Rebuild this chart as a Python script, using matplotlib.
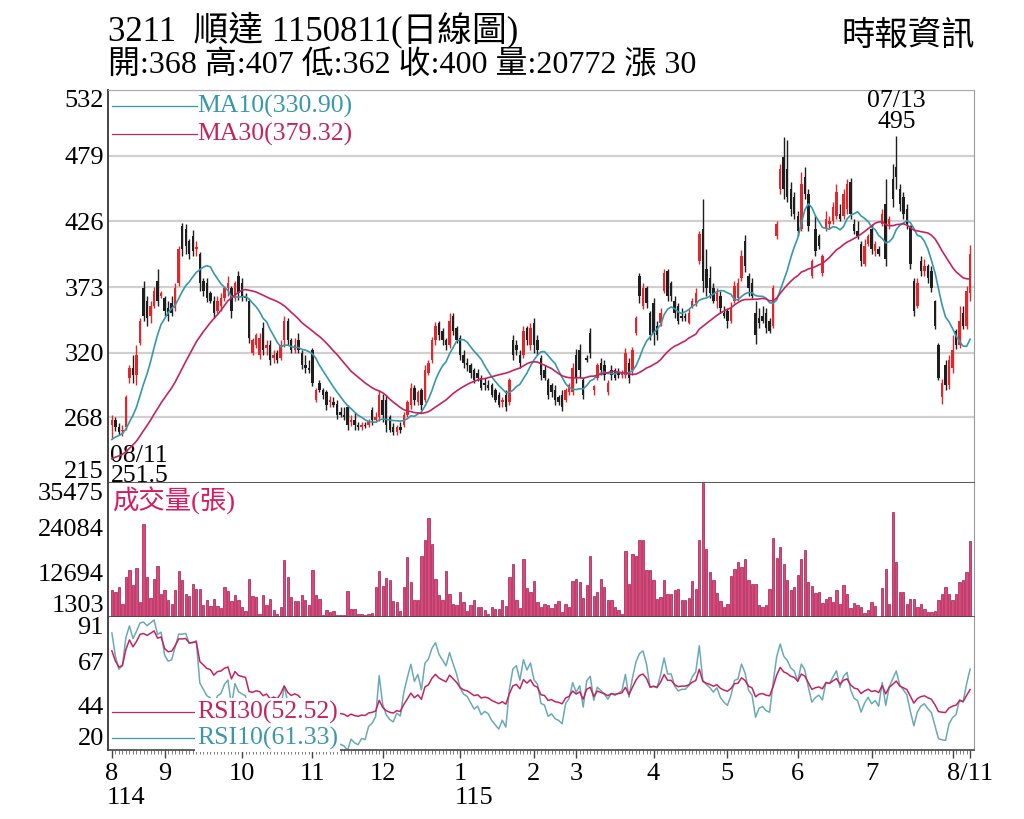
import numpy as np
import pandas as pd
import matplotlib
matplotlib.use("Agg")
import matplotlib.pyplot as plt
from matplotlib.transforms import blended_transform_factory

# ---- data (3211 順達, daily, 114/08/11 - 115/08/11) ----
open_ = [
    262, 266, 260, 257, 260, 300, 308, 302, 328, 372,
    362, 350, 358, 378, 366, 364, 356, 360, 356, 376,
    422, 420, 410, 414, 404, 400, 378, 376, 368, 362,
    354, 358, 364, 372, 372, 364, 382, 376, 366, 362,
    320, 326, 318, 340, 324, 326, 316, 320, 316, 330,
    346, 330, 322, 330, 320, 310, 308, 322, 282, 296,
    290, 288, 280, 280, 279, 272, 270, 276, 264, 266,
    262, 260, 262, 262, 274, 266, 268, 282, 282, 268,
    260, 256, 260, 262, 270, 278, 292, 280, 290, 282,
    304, 314, 330, 344, 338, 330, 326, 350, 340, 332,
    318, 312, 310, 306, 304, 300, 296, 294, 294, 290,
    286, 280, 286, 280, 330, 326, 318, 318, 340, 326,
    344, 330, 316, 306, 298, 294, 290, 284, 286, 282,
    288, 288, 318, 322, 298, 316, 336, 290, 300, 312,
    310, 288, 306, 306, 304, 302, 302, 312, 306, 336,
    382, 358, 372, 352, 360, 342, 344, 370, 386, 376,
    362, 358, 350, 350, 344, 358, 360, 394, 420, 388,
    380, 372, 362, 366, 352, 354, 346, 362, 364, 380,
    410, 382, 376, 352, 348, 350, 352, 346, 342, 414,
    452, 478, 468, 452, 446, 430, 420, 462, 448, 382,
    420, 414, 384, 420, 424, 426, 430, 432, 430, 436,
    458, 424, 418, 408, 392, 408, 420, 402, 404, 424,
    440, 424, 460, 470, 452, 446, 436, 422, 378, 358,
    394, 386, 390, 386, 362, 326, 284, 310, 294, 308,
    338, 326, 352, 342, 368,
]
high = [
    270, 268, 263, 262, 286, 310, 318, 326, 348, 378,
    366, 362, 373, 388, 370, 366, 362, 366, 376, 406,
    425, 424, 412, 419, 410, 401, 380, 380, 370, 366,
    366, 368, 374, 382, 374, 378, 386, 380, 368, 364,
    332, 336, 336, 345, 330, 330, 322, 322, 330, 350,
    348, 332, 332, 336, 322, 318, 314, 324, 292, 298,
    292, 290, 285, 284, 282, 276, 276, 278, 270, 272,
    264, 264, 264, 267, 276, 272, 290, 287, 286, 270,
    263, 262, 264, 272, 282, 296, 294, 290, 292, 310,
    314, 333, 345, 346, 340, 332, 352, 352, 342, 334,
    322, 316, 312, 308, 307, 302, 300, 298, 296, 292,
    288, 284, 290, 300, 334, 330, 322, 342, 342, 344,
    348, 334, 318, 310, 300, 296, 294, 286, 290, 292,
    296, 312, 323, 327, 300, 318, 340, 294, 312, 316,
    314, 298, 310, 308, 308, 306, 324, 316, 325, 350,
    384, 376, 374, 354, 364, 346, 356, 388, 388, 378,
    366, 360, 356, 352, 355, 364, 372, 418, 444, 404,
    390, 376, 372, 370, 358, 356, 361, 378, 380, 403,
    415, 384, 380, 362, 356, 358, 356, 348, 375, 426,
    472, 494, 492, 458, 450, 434, 466, 470, 452, 396,
    431, 416, 400, 434, 430, 442, 456, 440, 452, 460,
    461, 428, 426, 410, 412, 416, 424, 410, 406, 436,
    460, 430, 472, 495, 456, 450, 440, 423, 380, 380,
    398, 396, 392, 390, 363, 328, 299, 314, 318, 334,
    339, 358, 358, 374, 407,
]
low = [
    251.5, 257, 254, 253, 258, 296, 296, 294, 326, 346,
    342, 344, 356, 358, 364, 350, 346, 350, 354, 374,
    398, 400, 396, 398, 398, 370, 366, 361, 360, 348,
    352, 354, 362, 366, 348, 362, 363, 362, 362, 328,
    318, 324, 315, 318, 318, 310, 312, 312, 314, 325,
    326, 320, 320, 320, 307, 304, 304, 293, 280, 288,
    283, 274, 276, 276, 267, 268, 266, 258, 261, 258,
    258, 258, 259, 260, 262, 264, 265, 264, 256, 256,
    254, 254, 255, 260, 268, 275, 278, 278, 274, 280,
    302, 312, 326, 330, 326, 322, 324, 334, 328, 314,
    308, 305, 300, 296, 297, 290, 290, 290, 284, 280,
    276, 276, 273, 278, 314, 318, 308, 316, 326, 322,
    320, 318, 298, 298, 283, 284, 278, 278, 273, 280,
    286, 286, 296, 300, 283, 313, 316, 286, 298, 302,
    298, 286, 298, 298, 300, 300, 300, 296, 302, 334,
    360, 355, 356, 330, 326, 330, 342, 368, 362, 362,
    348, 343, 346, 346, 343, 356, 358, 392, 369, 366,
    364, 360, 356, 352, 348, 340, 344, 360, 362, 378,
    385, 366, 364, 327, 340, 344, 336, 336, 340, 412,
    448, 444, 442, 430, 428, 414, 418, 444, 418, 380,
    398, 404, 382, 418, 420, 424, 428, 426, 428, 432,
    428, 416, 412, 390, 390, 406, 400, 398, 398, 422,
    390, 420, 438, 452, 434, 428, 420, 388, 350, 356,
    382, 382, 376, 369, 339, 298, 279, 290, 291, 304,
    323, 324, 339, 339, 362,
]
close = [
    266, 260, 256, 258, 284, 308, 302, 318, 346, 350,
    348, 358, 370, 362, 368, 354, 350, 352, 372, 404,
    404, 406, 400, 402, 405, 376, 370, 364, 362, 352,
    362, 364, 372, 376, 354, 376, 368, 366, 364, 332,
    330, 334, 332, 322, 326, 314, 318, 314, 326, 346,
    330, 322, 326, 322, 310, 308, 306, 296, 290, 290,
    286, 278, 282, 278, 270, 270, 268, 262, 266, 262,
    260, 262, 261, 265, 266, 268, 286, 270, 262, 258,
    256, 260, 258, 270, 280, 292, 282, 288, 278, 306,
    312, 330, 342, 334, 330, 326, 346, 338, 330, 318,
    312, 310, 304, 298, 300, 292, 294, 292, 286, 282,
    278, 282, 276, 298, 318, 322, 312, 338, 330, 340,
    326, 322, 302, 300, 286, 288, 282, 280, 276, 290,
    294, 308, 300, 306, 286, 314, 320, 293, 310, 306,
    302, 296, 302, 300, 302, 304, 320, 300, 322, 348,
    366, 372, 360, 334, 336, 334, 352, 384, 366, 366,
    352, 346, 348, 348, 352, 362, 368, 416, 378, 372,
    368, 362, 368, 356, 350, 346, 356, 374, 376, 398,
    390, 372, 366, 334, 344, 346, 340, 338, 372, 424,
    468, 452, 446, 436, 432, 418, 456, 448, 422, 394,
    402, 406, 398, 428, 426, 438, 450, 428, 448, 456,
    432, 418, 414, 394, 406, 414, 404, 408, 400, 432,
    396, 428, 444, 462, 440, 432, 424, 392, 354, 376,
    386, 390, 380, 372, 342, 300, 296, 294, 314, 322,
    326, 346, 342, 370, 400,
]
# closes before 08/11, only used to seed the moving averages / RSI
pre_close = [220, 226, 222, 218, 224, 221, 227, 223, 219, 225,
             229, 224, 230, 226, 232, 228, 234, 230, 236, 241,
             240, 244, 243, 247, 250, 249, 252, 254, 256]
volume = [
    8270, 7680, 8950, 4700, 11500, 13370, 9380, 13880, 5130, 25100,
    11500, 6230, 11080, 14310, 7080, 8270, 5550, 4530, 8100, 13030,
    10650, 7250, 6660, 9800, 8530, 8530, 4280, 5720, 4020, 5980,
    4020, 3680, 8950, 7930, 5380, 6830, 5550, 3850, 2830, 11080,
    6570, 6400, 2150, 6830, 4280, 5980, 3000, 2150, 3850, 15750,
    11500, 6400, 5380, 5380, 6830, 5550, 4280, 13200, 6830, 5980,
    1900, 3000, 2580, 2830, 1730, 1900, 1900, 7930, 3430, 3430,
    2150, 2150, 1730, 2150, 2320, 8950, 13030, 9120, 11330, 10820,
    5380, 5130, 2830, 8950, 16600, 10230, 5720, 5720, 16770, 20850,
    26630, 20000, 11080, 6830, 5550, 13030, 7250, 4530, 4280, 7680,
    5130, 2830, 4280, 5720, 3850, 3850, 3170, 1980, 3850, 3430,
    3430, 5550, 4020, 11500, 14730, 5550, 3680, 16180, 8780, 7680,
    10480, 5130, 3850, 4530, 4280, 3680, 4700, 5380, 2580, 4700,
    3850, 10480, 11080, 10230, 6230, 9380, 16770, 6570, 7680, 10910,
    8950, 5720, 5550, 3850, 3000, 2150, 18130, 9630, 17450, 16770,
    20850, 20850, 13370, 13370, 10820, 5980, 6400, 10820, 7250, 7250,
    8270, 8530, 5550, 5550, 6230, 10480, 8530, 20850, 35475, 18730,
    12780, 10820, 7420, 5380, 3850, 4530, 11760, 13630, 15330, 14050,
    16180, 10650, 9800, 9800, 4280, 3850, 4280, 8530, 21530, 16430,
    19150, 14730, 10820, 8100, 8950, 11930, 16180, 18470, 10230, 9290,
    7420, 7680, 4870, 5980, 6400, 5130, 8270, 4700, 9380, 7250,
    3680, 4870, 4280, 3850, 2320, 3000, 5130, 4020, 1303, 8780,
    13630, 4530, 28080, 15330, 7680, 7680, 4530, 5980, 5980, 3850,
    4700, 3430, 2580, 2580, 2830, 5720, 7250, 8950, 7250, 5550,
    7250, 10230, 10820, 12780, 20772,
]

price_ticks = [215, 268, 320, 373, 426, 479, 532]
vol_ticks = [1303, 12694, 24084, 35475]
rsi_ticks = [20, 44, 67, 91]
month_pos = [0, 15, 37, 57, 77, 99, 120, 132, 154, 175, 195, 216, 239, 244]
month_lab = ["8", "9", "10", "11", "12", "1", "2", "3", "4", "5", "6", "7", "", "8/11"]
year_pos = [0, 99]
year_lab = ["114", "115"]
low_date, high_date = "08/11", "07/13"
ma_last = {"MA10": 330.90, "MA30": 379.32}
rsi_last = {"RSI30": 52.52, "RSI10": 61.33}

plt.rcParams["font.family"] = ["Liberation Serif", "Noto Sans CJK TC", "DejaVu Sans"]

o = np.array(open_, float)
h = np.array(high, float)
l = np.array(low, float)
c = np.array(close, float)
v = np.array(volume, float)
x = np.arange(len(c))

allc = pd.Series(pre_close + close, dtype=float)
npre = len(pre_close)
ma10 = allc.rolling(10).mean().values[npre:]
ma30 = allc.rolling(30).mean().values[npre:]


def rsi(s, n):
    d = s.diff()
    up = d.clip(lower=0).ewm(alpha=1 / n, adjust=True).mean()
    dn = (-d.clip(upper=0)).ewm(alpha=1 / n, adjust=True).mean()
    return (100 * up / (up + dn)).values[npre:]


rsi10 = rsi(allc, 10)
rsi30 = rsi(allc, 30)

RED = "#e3262b"
BLACK = "#1e1e1e"
TEAL = "#3797ab"
MAG = "#c4245e"
VOLC = "#e2447c"

fig = plt.figure(figsize=(10.24, 8.19), dpi=100)
W, H = 1024, 819


def box(lft, top, rgt, bot):
    return [lft / W, 1 - bot / H, (rgt - lft) / W, (bot - top) / H]


ax1 = fig.add_axes(box(108, 90, 974, 483))
ax2 = fig.add_axes(box(108, 483, 974, 617), sharex=ax1)
ax3 = fig.add_axes(box(108, 617, 974, 750), sharex=ax1)

# candles
up = c >= o
cols = np.where(up, RED, BLACK)
ax1.vlines(x, l, h, colors=cols, lw=1.0, zorder=3)
ax1.bar(x, np.maximum(np.abs(c - o), 0.8), bottom=np.minimum(o, c), width=0.7,
        color=cols, zorder=3)
ax1.plot(x, ma10, color=TEAL, lw=1.2, zorder=4)
ax1.plot(x, ma30, color=MAG, lw=1.2, zorder=4)
ax1.set_ylim(price_ticks[0], price_ticks[-1])
ax1.set_yticks(price_ticks)
ax1.yaxis.grid(True, color="#d0d0d0", lw=1.6)
ax1.set_axisbelow(True)

# MA legend
for yy, key, col in [(0.959, "MA10", TEAL), (0.888, "MA30", MAG)]:
    ax1.plot([0.005, 0.103], [yy, yy], color=col, lw=0.9, transform=ax1.transAxes)
    ax1.text(0.103, yy, f"{key}({ma_last[key]:.2f})", color=col, fontsize=18.5,
             va="center", ha="left", transform=ax1.transAxes)

# low / high annotations
imin = int(np.argmin(l))
imax = int(np.argmax(h))
ax1.annotate(f"{low_date}\n{l[imin]:g}", xy=(imin, l[imin]), xytext=(-1, -5),
             textcoords="offset points", ha="left", va="top", fontsize=18.5,
             linespacing=0.92)
ax1.annotate(f"{high_date}\n{h[imax]:g}", xy=(imax, h[imax]), xytext=(0, 2),
             textcoords="offset points", ha="center", va="bottom", fontsize=18.5,
             linespacing=0.92)

# volume
ax2.bar(x, v - vol_ticks[0], bottom=vol_ticks[0], width=0.66, color=VOLC,
        edgecolor="#9c1c4e", linewidth=0.5)
ax2.set_ylim(vol_ticks[0], vol_ticks[-1])
ax2.set_yticks(vol_ticks)
ax2.text(0.005, 0.87, "成交量(張)", color="#d81b60", fontsize=19, va="center",
         ha="left", transform=ax2.transAxes)

# RSI
ax3.plot(x, rsi10, color="#69a9b8", lw=1.1)
ax3.plot(x, rsi30, color=MAG, lw=1.1)
ax3.set_ylim(rsi_ticks[0], rsi_ticks[-1])
ax3.set_yticks(rsi_ticks)
for yy, key, col in [(0.286, "RSI30", MAG), (0.09, "RSI10", "#3a97ad")]:
    ax3.plot([0.005, 0.103], [yy, yy], color=col, lw=0.9, transform=ax3.transAxes,
             zorder=5)
    ax3.text(0.103, yy, f"{key}({rsi_last[key]:.2f})", color=col, fontsize=18.5,
             va="center", ha="left", transform=ax3.transAxes, zorder=6,
             bbox=dict(facecolor="white", edgecolor="none", pad=1.5))

# axes styling
for ax in (ax1, ax2, ax3):
    ax.tick_params(axis="y", length=0, pad=3, labelsize=19)
    ax.spines["left"].set_color("#444444")
    ax.spines["left"].set_linewidth(1.4)
    ax.spines["right"].set_color("#9a9a9a")
    ax.spines["bottom"].set_color("#444444")
    ax.spines["bottom"].set_linewidth(1.2)
    ax.spines["top"].set_color("#aaaaaa")
    ticks = ax.yaxis.get_major_ticks()
    ticks[0].label1.set_va("bottom")
    ticks[-1].label1.set_va("top")
ax2.spines["top"].set_visible(False)
ax3.spines["top"].set_visible(False)
ax1.tick_params(axis="x", which="both", length=0, labelbottom=False)
ax2.tick_params(axis="x", which="both", length=0, labelbottom=False)

ax3.set_xlim(-1.1, len(c) - 1 + 1.1)
ax3.set_xticks(month_pos)
ax3.set_xticklabels(month_lab)
ax3.set_xticks(x, minor=True)
ax3.tick_params(axis="x", which="major", length=6, width=1, pad=3, labelsize=19,
                color="#444444")
ax3.tick_params(axis="x", which="minor", length=3, width=0.6, color="#666666")

trans = blended_transform_factory(ax3.transData, ax3.transAxes)
for p, s in zip(year_pos, year_lab):
    ax3.annotate(s, xy=(p, -0.36), xycoords=trans, xytext=(-4, 0),
                 textcoords="offset points", ha="left", va="center", fontsize=19)

# header
last = len(c) - 1
chg = c[last] - c[last - 1]
fig.text(108 / W, 1 - 30 / H, "3211  順達 1150811(日線圖)", fontsize=25,
         va="center", ha="left")
fig.text(108 / W, 1 - 66 / H,
         f"開:{o[last]:g} 高:{h[last]:g} 低:{l[last]:g} 收:{c[last]:g} "
         f"量:{v[last]:g} 漲 {chg:g}", fontsize=23, va="center", ha="left")
fig.text(975 / W, 1 - 36 / H, "時報資訊", fontsize=24, va="center", ha="right")

fig.savefig("out.png", dpi=100)
